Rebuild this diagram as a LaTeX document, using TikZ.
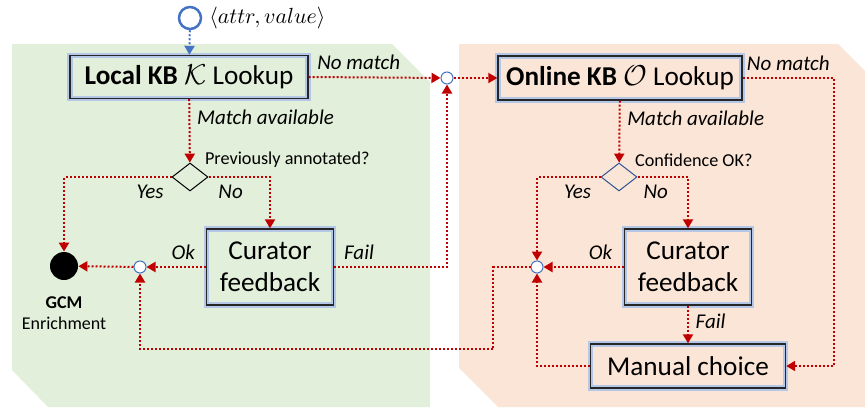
\documentclass[tikz,border=0pt]{standalone}
\usepackage{fontspec}
\setmainfont{Carlito}
\usetikzlibrary{shapes.geometric,arrows.meta,calc}

\definecolor{flow}{HTML}{C00000}
\definecolor{ring}{HTML}{4472C4}
\definecolor{ringdark}{HTML}{2F5597}
\definecolor{glow}{HTML}{B4C7E7}
\definecolor{localbg}{HTML}{E2EFDA}
\definecolor{onlinebg}{HTML}{FBE5D6}

\begin{document}
\begin{tikzpicture}[x=0.5pt,y=-0.5pt,
  box/.style={rectangle, draw=black!85, line width=0.7pt,
    preaction={draw=glow, line width=2.6pt}, align=center,
    font=\fontsize{13.6}{16}\selectfont},
  junction/.style={circle, draw=ring, line width=0.5pt, fill=white,
    minimum size=6pt, inner sep=0pt},
  decision/.style={diamond, draw=black, line width=0.5pt,
    minimum width=18pt, minimum height=14pt, inner sep=0pt},
  flowline/.style={draw=flow, line width=1pt, dash pattern=on 1pt off 1pt,
    -{Triangle[width=5pt,length=4.5pt]}},
  lbl/.style={font=\fontsize{10.5}{12}\itshape},
  qlbl/.style={font=\fontsize{9.1}{11}\selectfont}]

\useasboundingbox (0,0) rectangle (865,407);

% the two lookup areas
\fill[localbg] (12,44) -- (392,44) -- (430,82) -- (430,407) -- (48,407) -- (12,370) -- cycle;
\fill[onlinebg] (459,44) -- (838,44) -- (865,71) -- (865,407) -- (498,407) -- (459,368) -- cycle;

% nodes
\node[circle, draw=ring, line width=1.25pt, minimum size=11pt, inner sep=0pt,
  label={[font=\fontsize{10.5}{12}\selectfont]east:$\langle attr, value\rangle$}] (start) at (190,18) {};
\node[box, minimum width=119pt, minimum height=21.5pt] (lkb) at (189,77)
  {\textbf{Local KB} $\mathcal{K}$ Lookup};
\node[junction] (j1) at (447,78) {};
\node[box, minimum width=122pt, minimum height=22pt] (okb) at (620,78)
  {\textbf{Online KB} $\mathcal{O}$ Lookup};

\node[decision] (d1) at (190,177) {};
\node[qlbl, anchor=west] (d1txt) at (198,160) {Previously annotated?};
\node[decision, draw=ringdark] (d2) at (619,177) {};
\node[qlbl, anchor=west] (d2txt) at (628,160) {Confidence OK?};

\node[circle, fill=black, minimum size=14pt, inner sep=0pt] (gcm) at (64,266) {};
\node[align=center, font=\fontsize{9}{10.5}\selectfont, anchor=north] (gcmtxt) at (64,290)
  {\textbf{GCM}\\Enrichment};
\node[junction] (j2) at (140,267) {};
\node[box, minimum width=63.5pt, minimum height=38pt] (cur1) at (270,267) {Curator\\feedback};

\node[junction] (j3) at (537,267) {};
\node[box, minimum width=63.5pt, minimum height=38pt] (cur2) at (688,267) {Curator\\feedback};
\node[box, minimum width=97.5pt, minimum height=22pt] (man) at (688,366) {Manual choice};

% connectors
\draw[flowline, draw=ring] (start) -- (lkb);
\draw[flowline] (lkb.east) -- node[lbl, above, pos=0.38] {No match} (j1);
\draw[flowline] (j1) -- (okb);
\draw[flowline] (okb.east) -- node[lbl, above] {No match} (834,78) |- (man.east);

\draw[flowline] (lkb) -- node[lbl, right, pos=0.28] {Match available} (d1);
\draw[flowline] (d1.west) -| node[lbl, below, pos=0.1] {Yes} (gcm.north);
\draw[flowline] (d1.east) -| node[lbl, below, pos=0.18] {No} (cur1.north);
\draw[flowline] (cur1.west) -- node[lbl, above, pos=0.38] {Ok} (j2);
\draw[flowline] (j2) -- (gcm);
\draw[flowline] (cur1.east) -| node[lbl, above, pos=0.11] {Fail} (j1);

\draw[flowline] (okb) -- node[lbl, right, pos=0.28] {Match available} (d2);
\draw[flowline] (d2.west) -| node[lbl, below, pos=0.18] {Yes} (j3);
\draw[flowline] (d2.east) -| node[lbl, below, pos=0.18] {No} (cur2.north);
\draw[flowline] (cur2.west) -- node[lbl, above, pos=0.29] {Ok} (j3);
\draw[flowline] (cur2) -- node[lbl, right, pos=0.42] {Fail} (man);
\draw[flowline] (man.west) -| (j3);
\draw[flowline] (j3.west) -- (493,267) -- (493,349) -| (j2);

\end{tikzpicture}
\end{document}
